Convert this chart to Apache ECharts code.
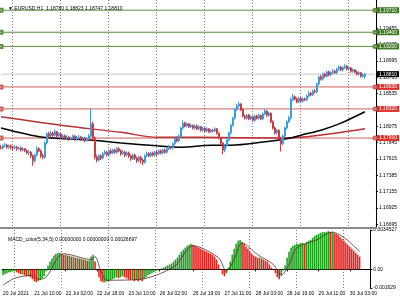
<!DOCTYPE html>
<html><head><meta charset="utf-8">
<script src="https://cdn.jsdelivr.net/npm/echarts@6/dist/echarts.min.js"></script>
<style>html,body{margin:0;padding:0;background:#fff}#c{width:400px;height:300px}</style>
</head><body><div id="c"></div>
<script>
const symbolName = "EURUSD,H1";
const sessionDays = [["20 Jul",18,23],["21 Jul",0,23],["22 Jul",0,23],["23 Jul",0,23],["26 Jul",0,23],["27 Jul",0,23],["28 Jul",0,23],["29 Jul",0,23],["30 Jul",0,8]];
const emptySlots = 5;

const opens = [1.1778,1.1777,1.1780,1.1781,1.1778,1.1780,1.1778,1.1777,1.1778,1.1776,1.1777,1.1774,1.1776,1.1773,1.1770,1.1771,1.1766,1.1759,1.1767,1.1776,
1.1773,1.1766,1.1764,1.1784,1.1797,1.1794,1.1798,1.1795,1.1800,1.1794,1.1797,1.1792,1.1794,1.1791,1.1792,1.1790,1.1791,1.1794,1.1790,1.1791,
1.1792,1.1790,1.1791,1.1788,1.1790,1.1794,1.1811,1.1791,1.1764,1.1760,1.1766,1.1763,1.1769,1.1771,1.1767,1.1773,1.1770,1.1774,1.1771,1.1776,
1.1773,1.1769,1.1771,1.1767,1.1770,1.1766,1.1762,1.1767,1.1763,1.1759,1.1764,1.1760,1.1757,1.1766,1.1769,1.1766,1.1770,1.1767,1.1771,1.1769,
1.1773,1.1770,1.1774,1.1771,1.1776,1.1778,1.1777,1.1783,1.1790,1.1787,1.1794,1.1805,1.1812,1.1808,1.1811,1.1807,1.1809,1.1805,1.1808,1.1804,
1.1807,1.1802,1.1805,1.1801,1.1804,1.1800,1.1802,1.1801,1.1804,1.1798,1.1791,1.1784,1.1774,1.1780,1.1788,1.1798,1.1809,1.1819,1.1831,1.1836,
1.1839,1.1831,1.1822,1.1819,1.1823,1.1818,1.1821,1.1816,1.1822,1.1819,1.1823,1.1818,1.1825,1.1829,1.1823,1.1826,1.1814,1.1805,1.1798,1.1802,
1.1791,1.1783,1.1794,1.1805,1.1814,1.1819,1.1845,1.1849,1.1846,1.1842,1.1847,1.1843,1.1846,1.1845,1.1850,1.1854,1.1852,1.1857,1.1856,1.1867,
1.1877,1.1874,1.1881,1.1878,1.1884,1.1880,1.1883,1.1885,1.1883,1.1888,1.1891,1.1887,1.1890,1.1892,1.1888,1.1890,1.1885,1.1887,1.1884,1.1881,
1.1883,1.1878,1.18780];
const highs = [1.1781,1.1782,1.1784,1.1783,1.1782,1.1782,1.1780,1.1781,1.1780,1.1779,1.1779,1.1778,1.1777,1.1775,1.1774,1.1773,1.1768,1.1769,1.1779,1.1778,
1.1775,1.1769,1.1786,1.1799,1.1800,1.1801,1.1800,1.1803,1.1801,1.1799,1.1798,1.1796,1.1796,1.1795,1.1794,1.1793,1.1796,1.1795,1.1794,1.1795,
1.1794,1.1793,1.1792,1.1792,1.1797,1.1832,1.1814,1.1793,1.1767,1.1768,1.1768,1.1771,1.1774,1.1773,1.1775,1.1776,1.1776,1.1776,1.1778,1.1778,
1.1775,1.1774,1.1773,1.1772,1.1772,1.1768,1.1769,1.1769,1.1765,1.1766,1.1766,1.1762,1.1768,1.1772,1.1771,1.1772,1.1772,1.1773,1.1774,1.1775,
1.1775,1.1776,1.1776,1.1778,1.1781,1.1780,1.1785,1.1792,1.1793,1.1796,1.1807,1.1816,1.1814,1.1813,1.1812,1.1811,1.1810,1.1810,1.1810,1.1809,
1.1808,1.1807,1.1806,1.1806,1.1805,1.1804,1.1804,1.1806,1.1805,1.1799,1.1792,1.1785,1.1782,1.1790,1.1800,1.1811,1.1821,1.1833,1.1839,1.1842,
1.1840,1.1833,1.1824,1.1825,1.1825,1.1823,1.1822,1.1824,1.1824,1.1825,1.1824,1.1827,1.1832,1.1830,1.1828,1.1827,1.1816,1.1807,1.1804,1.1803,
1.1793,1.1796,1.1807,1.1816,1.1822,1.1848,1.1853,1.1851,1.1848,1.1849,1.1849,1.1848,1.1848,1.1852,1.1857,1.1856,1.1859,1.1860,1.1869,1.1879,
1.1880,1.1883,1.1883,1.1886,1.1886,1.1885,1.1888,1.1887,1.1890,1.1893,1.1892,1.1892,1.1895,1.1894,1.1892,1.1891,1.1889,1.1888,1.1886,1.1885,
1.1884,1.1882,1.18823];
const lows = [1.1775,1.1775,1.1778,1.1776,1.1776,1.1775,1.1774,1.1775,1.1773,1.1774,1.1772,1.1772,1.1771,1.1768,1.1767,1.1763,1.1752,1.1756,1.1765,1.1771,
1.1763,1.1761,1.1762,1.1782,1.1791,1.1792,1.1793,1.1793,1.1792,1.1792,1.1790,1.1790,1.1789,1.1789,1.1787,1.1788,1.1789,1.1787,1.1788,1.1789,
1.1787,1.1788,1.1785,1.1786,1.1788,1.1792,1.1788,1.1761,1.1757,1.1758,1.1760,1.1761,1.1767,1.1765,1.1765,1.1768,1.1768,1.1769,1.1769,1.1771,
1.1766,1.1767,1.1764,1.1765,1.1763,1.1759,1.1760,1.1760,1.1756,1.1757,1.1755,1.1753,1.1755,1.1764,1.1764,1.1764,1.1765,1.1765,1.1766,1.1767,
1.1768,1.1768,1.1769,1.1769,1.1774,1.1775,1.1775,1.1781,1.1785,1.1785,1.1792,1.1803,1.1806,1.1806,1.1805,1.1805,1.1803,1.1803,1.1802,1.1802,
1.1800,1.1800,1.1799,1.1799,1.1798,1.1798,1.1799,1.1799,1.1796,1.1789,1.1781,1.1768,1.1771,1.1778,1.1786,1.1796,1.1807,1.1817,1.1829,1.1834,
1.1829,1.1820,1.1817,1.1817,1.1816,1.1816,1.1814,1.1814,1.1817,1.1817,1.1816,1.1816,1.1823,1.1821,1.1821,1.1812,1.1803,1.1796,1.1796,1.1789,
1.1772,1.1781,1.1792,1.1803,1.1812,1.1817,1.1843,1.1844,1.1840,1.1840,1.1841,1.1841,1.1843,1.1843,1.1848,1.1850,1.1850,1.1854,1.1854,1.1865,
1.1872,1.1872,1.1876,1.1876,1.1878,1.1878,1.1881,1.1881,1.1881,1.1886,1.1885,1.1885,1.1888,1.1886,1.1886,1.1883,1.1883,1.1882,1.1879,1.1879,
1.1876,1.1876,1.18747];
const closes = [1.1777,1.1780,1.1781,1.1778,1.1780,1.1778,1.1777,1.1778,1.1776,1.1777,1.1774,1.1776,1.1773,1.1770,1.1771,1.1766,1.1759,1.1767,1.1776,1.1773,
1.1766,1.1764,1.1784,1.1797,1.1794,1.1798,1.1795,1.1800,1.1794,1.1797,1.1792,1.1794,1.1791,1.1792,1.1790,1.1791,1.1794,1.1790,1.1791,1.1792,
1.1790,1.1791,1.1788,1.1790,1.1794,1.1811,1.1791,1.1764,1.1760,1.1766,1.1763,1.1769,1.1771,1.1767,1.1773,1.1770,1.1774,1.1771,1.1776,1.1773,
1.1769,1.1771,1.1767,1.1770,1.1766,1.1762,1.1767,1.1763,1.1759,1.1764,1.1760,1.1757,1.1766,1.1769,1.1766,1.1770,1.1767,1.1771,1.1769,1.1773,
1.1770,1.1774,1.1771,1.1776,1.1778,1.1777,1.1783,1.1790,1.1787,1.1794,1.1805,1.1812,1.1808,1.1811,1.1807,1.1809,1.1805,1.1808,1.1804,1.1807,
1.1802,1.1805,1.1801,1.1804,1.1800,1.1802,1.1801,1.1804,1.1798,1.1791,1.1784,1.1774,1.1780,1.1788,1.1798,1.1809,1.1819,1.1831,1.1836,1.1839,
1.1831,1.1822,1.1819,1.1823,1.1818,1.1821,1.1816,1.1822,1.1819,1.1823,1.1818,1.1825,1.1829,1.1823,1.1826,1.1814,1.1805,1.1798,1.1802,1.1791,
1.1783,1.1794,1.1805,1.1814,1.1819,1.1845,1.1849,1.1846,1.1842,1.1847,1.1843,1.1846,1.1845,1.1850,1.1854,1.1852,1.1857,1.1856,1.1867,1.1877,
1.1874,1.1881,1.1878,1.1884,1.1880,1.1883,1.1885,1.1883,1.1888,1.1891,1.1887,1.1890,1.1892,1.1888,1.1890,1.1885,1.1887,1.1884,1.1881,1.1883,
1.1878,1.1880,1.18810];

// moving averages read at a few bars: [bar index, value]
const maBlack = [[0,1.1805],[21,1.1792],[46,1.1788],[60,1.1784],[78,1.1780],[90,1.1778],[105,1.1781],[115,1.1781],[130,1.1785],[145,1.1791],[150,1.1795],[160,1.1802],[170,1.1812],[182,1.1828]];
const maRed = [[0,1.1821],[30,1.1809],[60,1.1799],[78,1.1792],[100,1.1792],[140,1.1791],[150,1.1792],[165,1.1797],[182,1.1804]];

const greenLevels = [1.19710, 1.19400, 1.19200];
const redLevels = [1.18630, 1.18320, 1.17910];
const bidPrice = 1.18810;

const priceMin = 1.16657, priceMax = 1.19854;
const priceTicks = [1.16695,1.16925,1.17155,1.17385,1.17615,1.17845,1.18075,1.18305,1.18535,1.18765,1.18995,1.19225,1.19455,1.19685];

const macdHist = [-0.00052,-0.00043,-0.00034,-0.00026,-0.00026,-0.00017,-0.00017,
-0.00026,-0.00034,-0.00043,-0.00043,-0.00052,-0.00060,-0.00060,-0.00069,
-0.00086,-0.00103,-0.00112,-0.00103,-0.00095,-0.00077,-0.00060,
-0.00017,0.00034,0.00069,0.00095,0.00121,0.00138,0.00146,0.00146,
0.00138,0.00129,0.00129,0.00121,0.00121,0.00112,0.00112,0.00103,0.00103,0.00095,0.00095,0.00086,0.00086,0.00077,0.00077,
0.00112,0.00129,0.00069,0,-0.00069,
-0.00103,-0.00112,-0.00112,-0.00103,-0.00103,-0.00095,-0.00086,
-0.00077,-0.00069,-0.00077,-0.00069,-0.00060,-0.00069,-0.00077,
-0.00086,-0.00095,-0.00086,-0.00103,-0.00095,-0.00103,-0.00095,-0.00103,-0.00086,-0.00069,
-0.00052,-0.00043,-0.00034,-0.00026,-0.00017,
-0.00009,0,0.00009,0.00017,0.00026,0.00034,0.00043,0.00052,0.00069,0.00086,
0.00103,0.00129,0.00155,0.00172,0.00189,0.00207,0.00215,0.00224,
0.00215,0.00207,0.00198,0.00189,0.00181,0.00172,0.00164,0.00155,0.00146,0.00138,0.00129,0.00112,0.00086,
0.00043,0,-0.00043,-0.00060,-0.00034,
0.00017,0.00069,0.00129,0.00181,0.00224,0.00250,0.00258,
0.00241,0.00224,0.00198,0.00181,0.00155,0.00138,0.00121,
0.00112,0.00103,0.00103,0.00095,0.00086,0.00077,0.00069,
0.00043,0.00017,0,-0.00034,-0.00069,-0.00086,
-0.00052,-0.00009,0.00034,0.00103,0.00155,
0.00189,0.00207,0.00215,0.00224,0.00224,0.00232,
0.00232,0.00224,0.00241,0.00250,0.00258,
0.00276,0.00293,0.00301,0.00310,0.00319,0.00327,0.00327,
0.00327,0.00336,0.00327,0.00327,0.00319,
0.00310,0.00301,0.00284,0.00267,0.00250,0.00232,0.00215,0.00198,0.00181,0.00164,0.00146,0.00129,0.00112];
const macdSignal = [[0,-0.00138],[6,-0.00077],[15,-0.00052],[18,-0.00086],[22,-0.00069],[28,0.00103],[31,0.00138],[45,0.00086],[47,0.00112],[50,-0.00017],[53,-0.00095],[70,-0.00086],[78,-0.00052],[88,0.00034],[97,0.00207],[110,0.00103],[114,-0.00017],[118,0.00086],[122,0.00232],[130,0.00129],[138,0.00043],[142,-0.00052],[146,0.00043],[150,0.00189],[160,0.00258],[168,0.00327],[175,0.00267],[182,0.00155]];
const macdMin = -0.001629, macdMax = 0.0034527;
const macdTickText = ["-0.001629", "0.00", "0.0034527"];
const macdTitle = "MACD_color(5,34,5) 0.00000000 0.00000000 0.00026697";

const timeTickCats = ["20 Jul 18:00","21 Jul 10:00","22 Jul 02:00","22 Jul 18:00","23 Jul 10:00","26 Jul 02:00","26 Jul 19:00","27 Jul 11:00","28 Jul 03:00","28 Jul 19:00","29 Jul 11:00","30 Jul 03:00"];
const timeTickText = ["20 Jul 2021","21 Jul 10:00","22 Jul 02:00","22 Jul 18:00","23 Jul 10:00","26 Jul 02:00","26 Jul 19:00","27 Jul 11:00","28 Jul 03:00","28 Jul 19:00","29 Jul 11:00","30 Jul 03:00"];

// ---- build ----
const cats = [];
sessionDays.forEach(([d, h0, h1]) => { for (let h = h0; h <= h1; h++) cats.push(d + " " + String(h).padStart(2, "0") + ":00"); });
for (let k = 0; k < emptySlots; k++) cats.push("e" + k);
const lastCat = cats.length - 1;

const candleData = closes.map((c, i) => [opens[i], c, lows[i], highs[i]]);
const macdData = macdHist.map((v, i) => {
  const up = i === 0 ? true : v >= macdHist[i - 1];
  return { value: v, itemStyle: { color: up ? "#1fa01f" : "#e8201c" } };
});

const FONT = "Liberation Sans";
const FS = 5;
const isDayStart = (idx, val) => typeof val === "string" && val.endsWith(" 00:00");
const tickMap = {}; timeTickCats.forEach((c, k) => tickMap[c] = timeTickText[k]);

function levelSeries(v, lineColor, boxColor, withMarks) {
  return {
    type: "line", xAxisIndex: 0, yAxisIndex: 0, z: 5, silent: true,
    data: [
      { value: [0, v], symbol: withMarks ? "emptyRect" : "none", symbolSize: 3 },
      { value: [lastCat, v], symbol: withMarks ? "emptyCircle" : "none", symbolSize: 3 }
    ],
    showSymbol: true, showAllSymbol: true,
    itemStyle: { color: lineColor, borderColor: lineColor },
    lineStyle: { color: lineColor, width: 1 },
    endLabel: { show: true, distance: 2, formatter: v.toFixed(5), color: "#fff",
      backgroundColor: boxColor, padding: [1, 2, 0, 2], fontSize: FS, fontFamily: FONT }
  };
}
const last = closes.length - 1;
const titleText = "\u25BC " + symbolName + "  " + opens[last].toFixed(5) + " " + highs[last].toFixed(5) + " " + lows[last].toFixed(5) + " " + closes[last].toFixed(5);

const chart = echarts.init(document.getElementById("c"), null, { renderer: "canvas" });
chart.setOption({
  animation: false,
  backgroundColor: "#fff",
  title: [
    { text: titleText, left: 3, top: 1, textStyle: { fontSize: FS, fontWeight: "normal", color: "#000", fontFamily: FONT } },
    { text: macdTitle, left: 3, top: 232, textStyle: { fontSize: FS, fontWeight: "normal", color: "#000", fontFamily: FONT } }
  ],
  grid: [
    { left: 0, top: 0, width: 377, height: 227 },
    { left: 0, top: 230, width: 377, height: 58 }
  ],
  xAxis: [
    { type: "category", gridIndex: 0, data: cats, boundaryGap: true,
      axisLine: { show: false }, axisTick: { show: false }, axisLabel: { show: false },
      splitLine: { show: true, interval: isDayStart, lineStyle: { color: "#777", type: [1, 2], width: 1 } } },
    { type: "category", gridIndex: 1, data: cats, boundaryGap: true,
      axisLine: { show: true, lineStyle: { color: "#000", width: 1 } },
      axisTick: { show: true, alignWithLabel: true, length: 2, interval: (i, v) => v in tickMap, lineStyle: { color: "#000" } },
      axisLabel: { show: true, interval: (i, v) => v in tickMap, formatter: v => tickMap[v] || "", align: "left",
        fontSize: FS, fontFamily: FONT, color: "#000", margin: 3 },
      splitLine: { show: true, interval: isDayStart, lineStyle: { color: "#777", type: [1, 2], width: 1 } } }
  ],
  yAxis: [
    { type: "value", gridIndex: 0, position: "right", min: priceMin, max: priceMax,
      axisLine: { show: true, lineStyle: { color: "#000" } },
      axisTick: { show: true, length: 2, customValues: priceTicks, lineStyle: { color: "#000" } },
      axisLabel: { show: true, customValues: priceTicks, formatter: v => v.toFixed(5), fontSize: FS, fontFamily: FONT, color: "#000", margin: 3 },
      splitLine: { show: false } },
    { type: "value", gridIndex: 1, position: "right", min: macdMin, max: macdMax,
      axisLine: { show: true, lineStyle: { color: "#000" } },
      axisTick: { show: true, length: 2, customValues: [macdMin, 0, macdMax], lineStyle: { color: "#000" } },
      axisLabel: { show: true, customValues: [macdMin, 0, macdMax], formatter: v => v === 0 ? macdTickText[1] : (v < 0 ? macdTickText[0] : macdTickText[2]),
        fontSize: FS, fontFamily: FONT, color: "#000", margin: 3 },
      splitLine: { show: false } }
  ],
  series: [
    levelSeries(bidPrice, "#c8c8c8", "#000", false),
    ...greenLevels.map(v => levelSeries(v, "#5e8f3e", "#3b7a22", true)),
    ...redLevels.map(v => levelSeries(v, "#c8605a", "#e0302a", true)),
    { type: "line", xAxisIndex: 0, yAxisIndex: 0, data: maRed, symbol: "none", smooth: 0.3,
      lineStyle: { color: "#b83232", width: 1.5 }, z: 6 },
    { type: "line", xAxisIndex: 0, yAxisIndex: 0, data: maBlack, symbol: "none", smooth: 0.3,
      lineStyle: { color: "#000", width: 1.5 }, z: 6 },
    { type: "candlestick", xAxisIndex: 0, yAxisIndex: 0, data: candleData, barWidth: 1.5,
      itemStyle: { color: "#3d9be0", color0: "#d03a3a", borderColor: "#3d9be0", borderColor0: "#d03a3a", borderWidth: 1 },
      z: 7 },
    { type: "bar", xAxisIndex: 1, yAxisIndex: 1, data: macdData, barCategoryGap: "20%", z: 2 },
    { type: "line", xAxisIndex: 1, yAxisIndex: 1, data: macdSignal, symbol: "none", smooth: 0.3,
      lineStyle: { color: "#5a2a2a", width: 0.8 }, z: 3 }
  ],
  graphic: [
    { type: "rect", shape: { x: 0, y: 227, width: 377, height: 2 }, style: { fill: "#8a8a8a" }, z: 10 }
  ]
});
</script></body></html>
